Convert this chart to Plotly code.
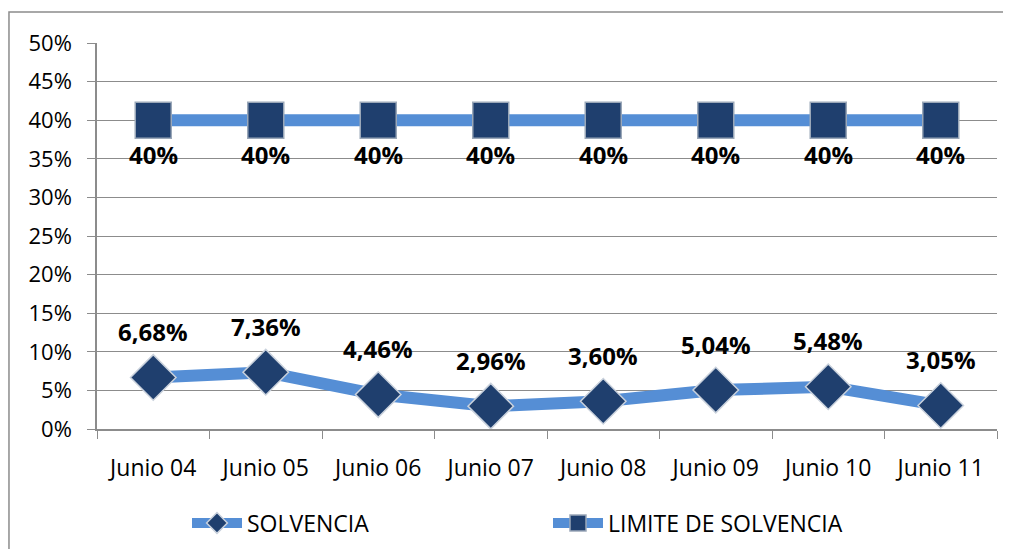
import plotly.graph_objects as go

categories = ["Junio 04", "Junio 05", "Junio 06", "Junio 07", "Junio 08", "Junio 09", "Junio 10", "Junio 11"]
solvencia = [0.0668, 0.0736, 0.0446, 0.0296, 0.0360, 0.0504, 0.0548, 0.0305]
limite = [0.40, 0.40, 0.40, 0.40, 0.40, 0.40, 0.40, 0.40]
y_ticks = [0, 0.05, 0.10, 0.15, 0.20, 0.25, 0.30, 0.35, 0.40, 0.45, 0.50]

def fmt(v):
    return f"{v*100:.2f}%".replace(".", ",")

def fmt_int(v):
    return f"{v*100:.0f}%"

line_color = "#558ED5"
marker_color = "#1F3F6E"
font_family = "Open Sans, DejaVu Sans, sans-serif"

fig = go.Figure()
fig.add_trace(go.Scatter(
    x=categories, y=solvencia, name="SOLVENCIA",
    mode="lines+markers",
    line=dict(color=line_color, width=12),
    marker=dict(symbol="diamond", size=35, color=marker_color,
                line=dict(color="#c9d1dc", width=1.5)),
    cliponaxis=False,
))
fig.add_trace(go.Scatter(
    x=categories, y=limite, name="LIMITE DE SOLVENCIA",
    mode="lines+markers",
    line=dict(color=line_color, width=12),
    marker=dict(symbol="square", size=36, color=marker_color,
                line=dict(color="#9aa7b8", width=1.5)),
    cliponaxis=False,
))

label_font = dict(family=font_family, size=24, color="#000000", weight="bold")
annotations = []
for c, v in zip(categories, solvencia):
    annotations.append(dict(x=c, y=v, xref="x", yref="y", text=fmt(v), showarrow=False,
                            yshift=46, font=label_font))
for c, v in zip(categories, limite):
    annotations.append(dict(x=c, y=v, xref="x", yref="y", text=fmt_int(v), showarrow=False,
                            yshift=-34, font=label_font))

# page body has an 8px margin; figure sized so the plot area lands where it should
fig.update_layout(
    width=1003, height=541,
    margin=dict(l=89, r=14, t=35, b=120, autoexpand=False),
    paper_bgcolor="white", plot_bgcolor="white",
    font=dict(family=font_family, size=18, color="#000000"),
    showlegend=True,
    legend=dict(orientation="h", x=0.1, xanchor="left",
                yref="container", y=0.048, yanchor="middle",
                font=dict(size=23), entrywidth=296, entrywidthmode="pixels",
                itemwidth=50, bgcolor="rgba(0,0,0,0)"),
    annotations=annotations,
    shapes=[dict(type="rect", xref="paper", yref="paper",
                 x0=-0.0978, x1=1.0089, y0=-0.33, y1=1.0803,
                 line=dict(color="#8c8c8c", width=1.5), fillcolor="rgba(0,0,0,0)",
                 layer="below")],
)
fig.update_xaxes(
    type="category", showgrid=False, showline=True, linecolor="#8c8c8c", linewidth=1.5,
    ticks="outside", ticklen=8, tickcolor="#8c8c8c", tickson="boundaries",
    tickfont=dict(size=23), range=[-0.5, 7.5], automargin=False,
    ticklabelstandoff=18,
)
fig.update_yaxes(
    range=[0, 0.5], tickvals=y_ticks, tickformat=".0%",
    showgrid=True, gridcolor="#8c8c8c", gridwidth=1,
    showline=True, linecolor="#8c8c8c", linewidth=1.5,
    ticks="outside", ticklen=8, tickcolor="#8c8c8c",
    tickfont=dict(size=22), zeroline=False, automargin=False,
    ticklabelstandoff=11,
)

fig.write_html("out.html")
